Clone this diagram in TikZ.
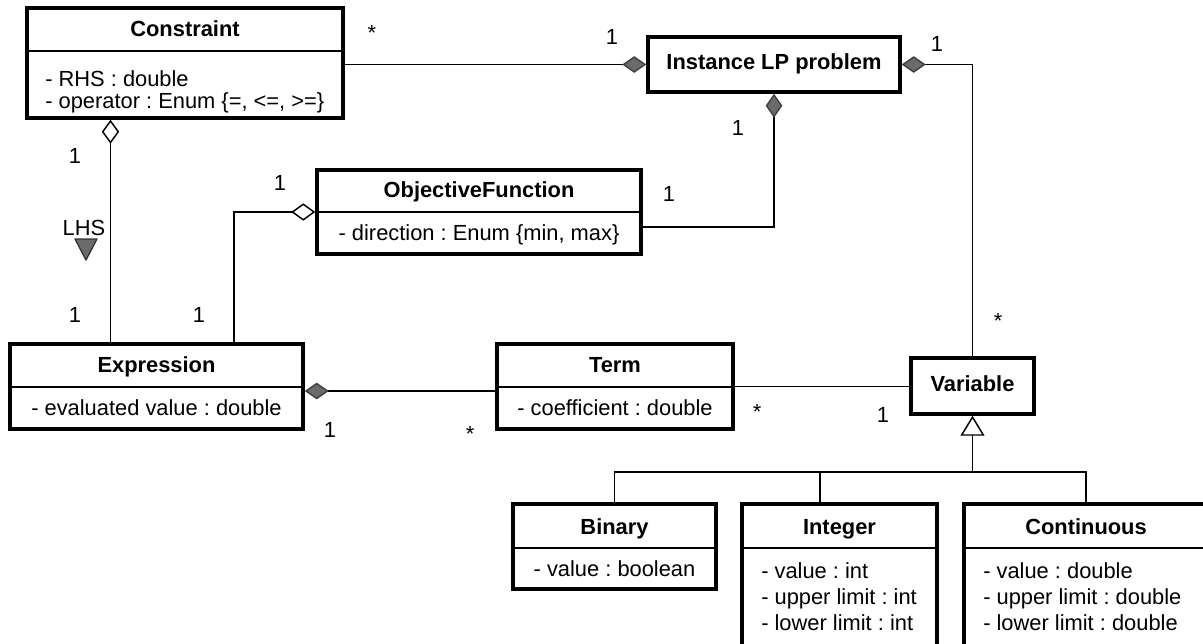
\documentclass[tikz,border=0pt]{standalone}
\usepackage{fontspec}
\setmainfont{Liberation Sans}
\usetikzlibrary{arrows.meta,calc}
\newcommand\umlsize{\fontsize{16.4pt}{19pt}\selectfont}
\frenchspacing
\begin{document}
\begin{tikzpicture}[x=0.75pt,y=-0.75pt,
  classbox/.style={draw, line width=2.6pt, inner sep=0pt, fill=white},
  title/.style={font=\umlsize\bfseries, inner sep=0pt, text height=11.5pt, text depth=3.3pt},
  attr/.style={font=\umlsize, inner sep=0pt, text height=11.5pt, text depth=3.3pt},
  attrl/.style={attr, anchor=west},
  mult/.style={font=\umlsize, inner sep=0pt},
  divider/.style={line width=0.8pt},
  link/.style={line width=1.1pt},
  comp/.style={link, -{Diamond[length=18pt,width=12.5pt,color=black!75,fill=black!58]}},
  compstart/.style={link, {Diamond[length=18pt,width=12.5pt,color=black!75,fill=black!58]}-},
  aggrstart/.style={link, {Diamond[length=18pt,width=13pt,fill=white]}-},
  gen/.style={link, -{Triangle[length=15pt,width=18pt,fill=white]}}
]
\fill[white] (0,0) rectangle (1203,643);
\useasboundingbox (0,0) rectangle (1203,643);

% ---------- classes ----------
% Constraint
\node[classbox, minimum width=237pt, minimum height=82.5pt] (cons) at (185,63) {};
\draw[divider] (cons.west |- 0,51) -- (cons.east |- 0,51);
\node[title] (cons-t) at (185,31) {Constraint};
\node[attrl] (cons-a1) at (45,81) {- RHS : double};
\node[attrl] (cons-a2) at (45,103) {- operator : Enum \{=, <=, >=\}};

% Instance LP problem
\node[classbox, minimum width=189pt, minimum height=41.25pt] (inst) at (774,64.5) {};
\node[title] (inst-t) at (774,64) {Instance LP problem};

% ObjectiveFunction
\node[classbox, minimum width=243pt, minimum height=63pt] (obj) at (479,212) {};
\draw[divider] (obj.west) -- (obj.east);
\node[title] (obj-t) at (479,192) {ObjectiveFunction};
\node[attr] (obj-a1) at (479,235) {- direction : Enum \{min, max\}};

% Expression
\node[classbox, minimum width=219.75pt, minimum height=63.75pt] (expr) at (156.5,386.5) {};
\draw[divider] (expr.west |- 0,387) -- (expr.east |- 0,387);
\node[title] (expr-t) at (156.5,367) {Expression};
\node[attr] (expr-a1) at (156.5,410) {- evaluated value : double};

% Term
\node[classbox, minimum width=177pt, minimum height=63.75pt] (term) at (615,386.5) {};
\draw[divider] (term.west |- 0,387) -- (term.east |- 0,387);
\node[title] (term-t) at (615,367) {Term};
\node[attr] (term-a1) at (615,410) {- coefficient : double};

% Variable
\node[classbox, minimum width=92.25pt, minimum height=42pt] (var) at (972.5,386) {};
\node[title] (var-t) at (972.5,386) {Variable};

% Binary
\node[classbox, minimum width=152.25pt, minimum height=63.75pt] (bin) at (614.5,546.5) {};
\draw[divider] (bin.west |- 0,548) -- (bin.east |- 0,548);
\node[title] (bin-t) at (614.5,529) {Binary};
\node[attr] (bin-a1) at (614.5,571) {- value : boolean};

% Integer
\node[classbox, minimum width=146.25pt, minimum height=109.5pt] (int) at (839.5,577) {};
\draw[divider] (int.west |- 0,548) -- (int.east |- 0,548);
\node[title] (int-t) at (839.5,529) {Integer};
\node[attrl] (int-a1) at (761,573) {- value : int};
\node[attrl] (int-a2) at (761,599) {- upper limit : int};
\node[attrl] (int-a3) at (761,625) {- lower limit : int};

% Continuous
\node[classbox, minimum width=183pt, minimum height=109.5pt] (cont) at (1086,577) {};
\draw[divider] (cont.west |- 0,548) -- (cont.east |- 0,548);
\node[title] (cont-t) at (1086,529) {Continuous};
\node[attrl] (cont-a1) at (983,573) {- value : double};
\node[attrl] (cont-a2) at (983,599) {- upper limit : double};
\node[attrl] (cont-a3) at (983,625) {- lower limit : double};

% ---------- associations ----------
% Constraint -- Instance LP problem
\draw[comp] (cons.east |- inst.west) -- (inst.west);
% Instance LP problem -- Variable
\draw[compstart] (inst.east) -| (var.north);
% Instance LP problem -- ObjectiveFunction
\coordinate (objR) at ($(obj.east)+(0,15)$);
\draw[compstart] (inst.south) |- (objR);
% ObjectiveFunction -- Expression
\coordinate (exprB) at ($(expr.north)+(77.5,0)$);
\draw[aggrstart] (obj.west) -| (exprB);
% Constraint -- Expression (LHS)
\coordinate (consB) at ($(cons.south)+(-74.5,0)$);
\draw[aggrstart] (consB) -- (consB |- expr.north);
% Expression -- Term
\coordinate (exprR) at ($(expr.east)+(0,4.5)$);
\draw[compstart] (exprR) -- (exprR -| term.west);
% Term -- Variable
\draw[link] (term.east) -- (term.east -| var.west);

% generalization tree
\coordinate (bus) at (973,472);
\coordinate (intT) at ($(int.north)+(-19.5,0)$);
\draw[link] (bin.north) -- (bin.north |- bus) -- (cont.north |- bus) -- (cont.north);
\draw[link] (intT) -- (intT |- bus);
\draw[gen] (var.south |- bus) -- (var.south);

% ---------- role and multiplicity labels ----------
\node[mult] (m1) at (372,33) {*};
\node[mult] (m2) at (612,37) {1};
\node[mult] (m3) at (937,44) {1};
\node[mult] (m4) at (998,321) {*};
\node[mult] (m5) at (738,128) {1};
\node[mult] (m6) at (669,194) {1};
\node[mult] (m7) at (280,183) {1};
\node[mult] (m8) at (199,315) {1};
\node[mult] (m9) at (75,156) {1};
\node[mult] (m10) at (75,315) {1};
\node[mult] (lhs) at (84,228) {LHS};
\filldraw[fill=black!58, draw=black!80, line width=1pt, line join=round] (75,239) -- (97,239) -- (86,260) -- cycle;
\node[mult] (m11) at (330,430) {1};
\node[mult] (m12) at (470,434) {*};
\node[mult] (m13) at (757,412) {*};
\node[mult] (m14) at (883,415) {1};
\end{tikzpicture}
\end{document}
